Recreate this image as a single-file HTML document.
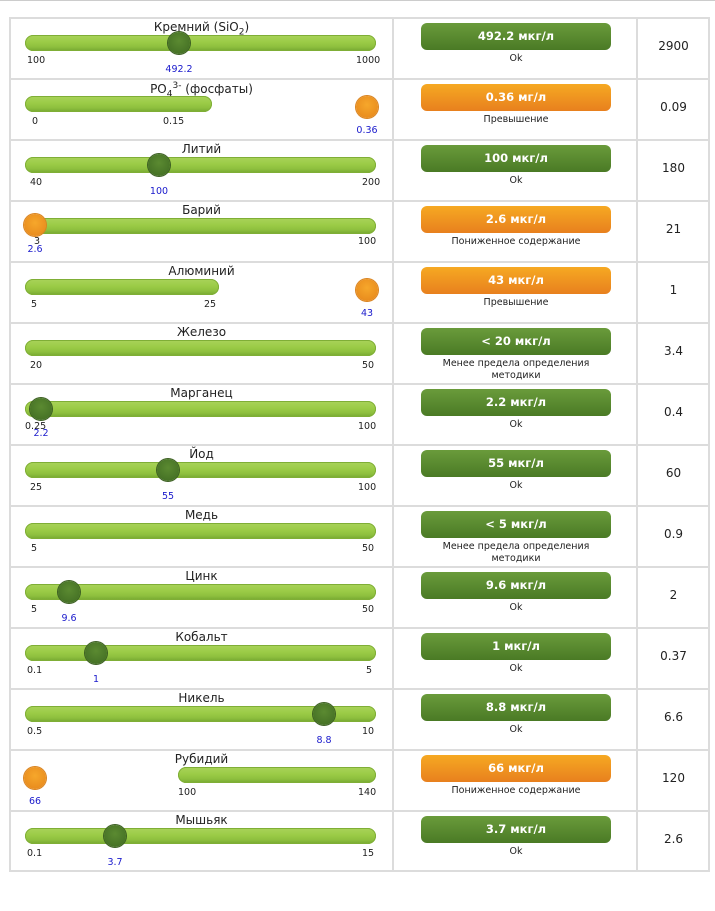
<!DOCTYPE html>
<html><head><meta charset="utf-8"><style>
body{margin:0;width:715px;height:911px;background:#fff;position:relative;overflow:hidden;font-family:"DejaVu Sans","Liberation Sans",sans-serif;color:#222}
.hl{position:absolute;left:10px;width:700px;height:2px;background:#dcdcdc}
.vl{position:absolute;top:17px;width:2px;height:855px;background:#dcdcdc}
.r{position:absolute;left:0;width:715px;height:61px}
.t{position:absolute;left:10px;width:383px;text-align:center;top:3px;font-size:12px}
.b{position:absolute;top:18px;height:16px;border-radius:8px;background:linear-gradient(#a9d35a 0%,#9bcb46 45%,#8dbf3e 75%,#76a830 100%);box-shadow:inset 0 0 0 1px #7fae36}
.k{position:absolute;width:22px;height:22px;border-radius:50%;top:15px;margin-left:-11px;background:radial-gradient(circle at 50% 40%,#5b8a31,#3f6a22);box-shadow:0 0 0 1px #3c5f22}
.o{position:absolute;width:22px;height:22px;border-radius:50%;top:18px;margin-left:-11px;background:radial-gradient(circle at 50% 40%,#f6a72b,#e5841a);box-shadow:0 0 0 1px #d9831f}
.l{position:absolute;top:38px;font-size:9.5px;color:#222}
.v{position:absolute;top:47px;font-size:9.5px;color:#1a1acc;transform:translateX(-50%)}
.g,.y{position:absolute;left:421px;width:190px;top:6px;height:27px;border-radius:6px;color:#fff;font-weight:bold;font-size:11.5px;text-align:center;line-height:27px}
.g{background:linear-gradient(#6a9b3b,#4a7a25)}
.y{background:linear-gradient(#f6a922,#e8801e)}
.s{position:absolute;left:421px;width:190px;top:36px;font-size:9.5px;text-align:center;line-height:12px}
.n{position:absolute;left:639px;width:69px;text-align:center;top:22px;font-size:12px}
</style></head><body>
<div class="hl" style="left:0;width:715px;top:0;height:1px;background:#ccc"></div>
<div class="hl" style="top:17px"></div><div class="hl" style="top:78px"></div><div class="hl" style="top:139px"></div><div class="hl" style="top:200px"></div><div class="hl" style="top:261px"></div><div class="hl" style="top:322px"></div><div class="hl" style="top:383px"></div><div class="hl" style="top:444px"></div><div class="hl" style="top:505px"></div><div class="hl" style="top:566px"></div><div class="hl" style="top:627px"></div><div class="hl" style="top:688px"></div><div class="hl" style="top:749px"></div><div class="hl" style="top:810px"></div><div class="hl" style="top:870px"></div>
<div class="vl" style="left:9px"></div><div class="vl" style="left:392px"></div><div class="vl" style="left:636px"></div><div class="vl" style="left:708px"></div>

<div class="r" style="top:17px"><div class="t">Кремний (SiO<sub style="font-size:9px">2</sub>)</div><div class="b" style="left:25px;width:351px"></div><div class="k" style="left:179px"></div><div class="l" style="left:27px">100</div><div class="l" style="left:356px">1000</div><div class="v" style="left:179px">492.2</div><div class="g">492.2 мкг/л</div><div class="s">Ok</div><div class="n">2900</div></div>

<div class="r" style="top:78px"><div class="t">PO<sub style="font-size:9px">4</sub><sup style="font-size:9px">3-</sup> (фосфаты)</div><div class="b" style="left:25px;width:187px"></div><div class="o" style="left:367px"></div><div class="l" style="left:32px">0</div><div class="l" style="left:163px">0.15</div><div class="v" style="left:367px">0.36</div><div class="y">0.36 мг/л</div><div class="s">Превышение</div><div class="n">0.09</div></div>

<div class="r" style="top:139px"><div class="t">Литий</div><div class="b" style="left:25px;width:351px"></div><div class="k" style="left:159px"></div><div class="l" style="left:30px">40</div><div class="l" style="left:362px">200</div><div class="v" style="left:159px">100</div><div class="g">100 мкг/л</div><div class="s">Ok</div><div class="n">180</div></div>

<div class="r" style="top:200px"><div class="t">Барий</div><div class="b" style="left:25px;width:351px"></div><div class="o" style="left:35px;top:14px"></div><div class="l" style="left:34px;top:36px">3</div><div class="l" style="left:358px;top:36px">100</div><div class="v" style="left:35px;top:44px">2.6</div><div class="y">2.6 мкг/л</div><div class="s">Пониженное содержание</div><div class="n">21</div></div>

<div class="r" style="top:261px"><div class="t">Алюминий</div><div class="b" style="left:25px;width:194px"></div><div class="o" style="left:367px"></div><div class="l" style="left:31px">5</div><div class="l" style="left:204px">25</div><div class="v" style="left:367px">43</div><div class="y">43 мкг/л</div><div class="s">Превышение</div><div class="n">1</div></div>

<div class="r" style="top:322px"><div class="t">Железо</div><div class="b" style="left:25px;width:351px"></div><div class="l" style="left:30px">20</div><div class="l" style="left:362px">50</div><div class="g">&lt; 20 мкг/л</div><div class="s">Менее предела определения<br>методики</div><div class="n">3.4</div></div>

<div class="r" style="top:383px"><div class="t">Марганец</div><div class="b" style="left:25px;width:351px"></div><div class="k" style="left:41px"></div><div class="l" style="left:25px">0.25</div><div class="l" style="left:358px">100</div><div class="v" style="left:41px;top:45px">2.2</div><div class="g">2.2 мкг/л</div><div class="s">Ok</div><div class="n">0.4</div></div>

<div class="r" style="top:444px"><div class="t">Йод</div><div class="b" style="left:25px;width:351px"></div><div class="k" style="left:168px"></div><div class="l" style="left:30px">25</div><div class="l" style="left:358px">100</div><div class="v" style="left:168px">55</div><div class="g">55 мкг/л</div><div class="s">Ok</div><div class="n">60</div></div>

<div class="r" style="top:505px"><div class="t">Медь</div><div class="b" style="left:25px;width:351px"></div><div class="l" style="left:31px">5</div><div class="l" style="left:362px">50</div><div class="g">&lt; 5 мкг/л</div><div class="s">Менее предела определения<br>методики</div><div class="n">0.9</div></div>

<div class="r" style="top:566px"><div class="t">Цинк</div><div class="b" style="left:25px;width:351px"></div><div class="k" style="left:69px"></div><div class="l" style="left:31px">5</div><div class="l" style="left:362px">50</div><div class="v" style="left:69px">9.6</div><div class="g">9.6 мкг/л</div><div class="s">Ok</div><div class="n">2</div></div>

<div class="r" style="top:627px"><div class="t">Кобальт</div><div class="b" style="left:25px;width:351px"></div><div class="k" style="left:96px"></div><div class="l" style="left:27px">0.1</div><div class="l" style="left:366px">5</div><div class="v" style="left:96px">1</div><div class="g">1 мкг/л</div><div class="s">Ok</div><div class="n">0.37</div></div>

<div class="r" style="top:688px"><div class="t">Никель</div><div class="b" style="left:25px;width:351px"></div><div class="k" style="left:324px"></div><div class="l" style="left:27px">0.5</div><div class="l" style="left:362px">10</div><div class="v" style="left:324px">8.8</div><div class="g">8.8 мкг/л</div><div class="s">Ok</div><div class="n">6.6</div></div>

<div class="r" style="top:749px"><div class="t">Рубидий</div><div class="b" style="left:178px;width:198px"></div><div class="o" style="left:35px"></div><div class="l" style="left:178px">100</div><div class="l" style="left:358px">140</div><div class="v" style="left:35px">66</div><div class="y">66 мкг/л</div><div class="s">Пониженное содержание</div><div class="n">120</div></div>

<div class="r" style="top:810px"><div class="t">Мышьяк</div><div class="b" style="left:25px;width:351px"></div><div class="k" style="left:115px"></div><div class="l" style="left:27px">0.1</div><div class="l" style="left:362px">15</div><div class="v" style="left:115px">3.7</div><div class="g">3.7 мкг/л</div><div class="s">Ok</div><div class="n">2.6</div></div>
</body></html>
